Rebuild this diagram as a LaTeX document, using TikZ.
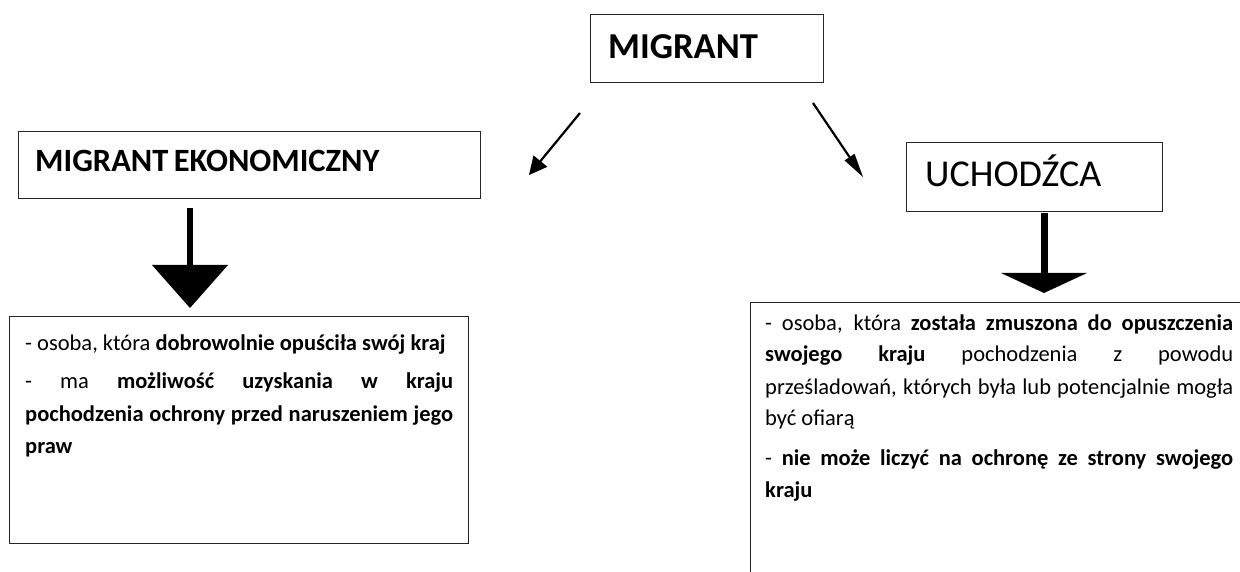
\documentclass[tikz,border=0pt]{standalone}
\usepackage{fontspec}
\setmainfont{Carlito}
\usetikzlibrary{arrows.meta,calc}
\begin{document}
\begin{tikzpicture}[x=1pt,y=-1pt,
  box/.style={draw=black!85, line width=1.3pt, anchor=north west, inner sep=0pt},
  headb/.style={anchor=base west, inner sep=0pt},
  body/.style={anchor=base west, inner sep=0pt, align=justify},
  diag/.style={line width=2.2pt, black},
  downarrow/.style={black}
]
\useasboundingbox (0,0) rectangle (1240,572);
\clip (0,0) rectangle (1240,572);

% header boxes
\node[box, minimum width=233pt, minimum height=68pt] (m) at (590,14) {};
\node[headb, font=\bfseries\fontsize{36.5}{40}\selectfont] (mt) at ($(m.north west)+(18,45)$) {MIGRANT};

\node[box, minimum width=462pt, minimum height=67pt] (ek) at (18,131) {};
\node[headb, font=\bfseries\fontsize{32.5}{36}\selectfont] (ekt) at ($(ek.north west)+(17,41)$) {MIGRANT\hspace{-2pt} EKONOMICZNY};

\node[box, minimum width=256pt, minimum height=69pt] (uc) at (906,142) {};
\node[headb, font=\fontsize{38}{42}\selectfont] (uct) at ($(uc.north west)+(19,45)$) {UCHODŹCA};

% body boxes
\node[box, minimum width=459pt, minimum height=227pt] (lb) at (9,316) {};
\node[body, text width=428pt, font=\fontsize{22.5}{32.5}\selectfont]
  (lbt) at ($(lb.north west)+(16,34)$)
  {\setlength{\parskip}{6pt}\tolerance=10000 \hbadness=10000
   - osoba, która \textbf{dobrowolnie opuściła swój kraj}\par
   - ma \textbf{możliwość uzyskania w kraju}\linebreak
   \textbf{pochodzenia ochrony przed naruszeniem jego}\linebreak
   \textbf{praw}};

\node[box, minimum width=520pt, minimum height=300pt] (rb) at (750,302) {};
\node[body, text width=468pt, font=\fontsize{22.5}{32}\selectfont]
  (rbt) at ($(rb.north west)+(15,28)$)
  {\setlength{\parskip}{8pt}\tolerance=10000 \hbadness=10000
   - osoba, która \textbf{została zmuszona do opuszczenia}\linebreak
   \textbf{swojego kraju} pochodzenia z powodu\linebreak
   prześladowań, których była lub potencjalnie mogła\linebreak
   być ofiarą\par
   - \textbf{nie może liczyć na ochronę ze strony swojego}\linebreak
   \textbf{kraju}};

% diagonal arrows
\coordinate (l1) at (580,113);
\coordinate (l2) at (529,175);
\draw[diag, -{Triangle[width=18pt 0 0,length=18pt 0 0,line width=0pt 0 0]}] (l1) -- (l2);
\coordinate (r1) at (813,103);
\coordinate (r2) at (863,177);
\draw[diag, -{Triangle[width=12pt 0 0,length=24pt 0 0,line width=0pt 0 0]}] (r1) -- (r2);

% down arrows
\coordinate (d1) at (190,208);
\coordinate (d2) at (190,308);
\draw[downarrow, line width=6pt, -{Triangle[width=76pt 0 0,length=43pt 0 0,line width=0pt 0 0]}] (d1) -- (d2);
\coordinate (e1) at (1044,213);
\coordinate (e2) at (1044,293);
\draw[downarrow, line width=7pt, -{Triangle[width=86pt 0 0,length=20pt 0 0,line width=0pt 0 0]}] (e1) -- (e2);
\end{tikzpicture}
\end{document}
